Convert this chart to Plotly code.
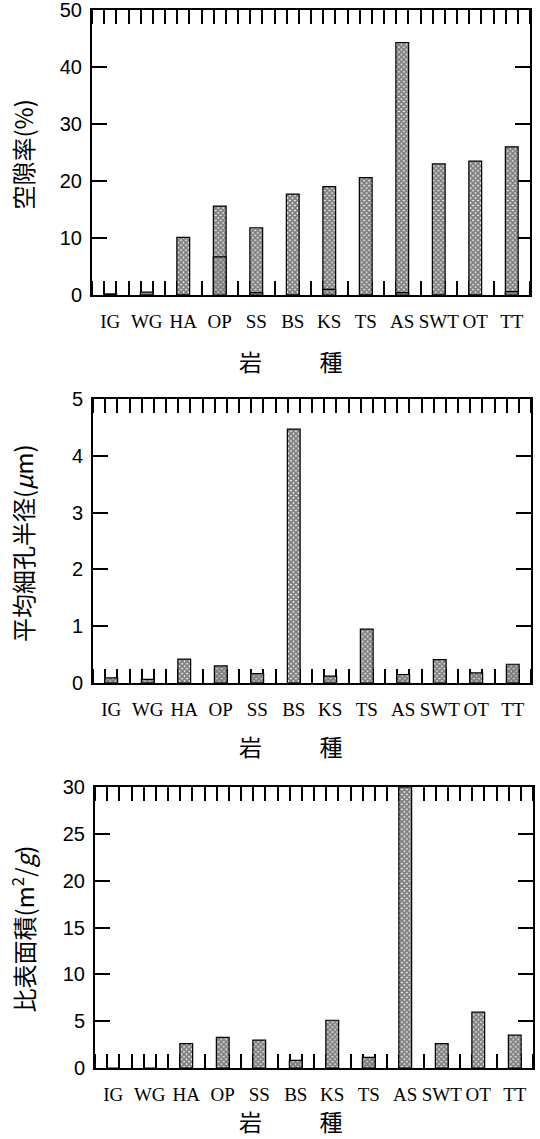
import plotly.graph_objects as go

categories = ["IG", "WG", "HA", "OP", "SS", "BS", "KS", "TS", "AS", "SWT", "OT", "TT"]

porosity = [0.2, 0.5, 10.1, 15.6, 11.8, 17.7, 19.0, 20.6, 44.3, 23.0, 23.5, 26.0]
porosity_dark = [0, 0, 0, 6.7, 0.4, 0, 1.0, 0, 0.4, 0, 0, 0.6]
pore_radius = [0.09, 0.065, 0.42, 0.30, 0.165, 4.47, 0.12, 0.95, 0.15, 0.41, 0.18, 0.33]
surface_area = [0, 0, 2.6, 3.27, 2.98, 0.82, 5.1, 1.14, 30.0, 2.6, 5.96, 3.5]

y_titles = ["空隙率(%)", "平均細孔半径(<i>μ</i>m)", "比表面積(m<sup>2</sup>/<i>g</i>)"]
x_title = "岩　　\u2002種"
y_ranges = [[0, 50], [0, 5], [0, 30]]
y_dticks = [10, 1, 5]

# darker hatching per bar (style, not data)
dark2 = [1, 1, 0, 1, 1, 0, 1, 0, 1, 0, 1, 1]
dark3 = [0, 0, 0, 0, 0, 1, 0, 1, 0, 0, 0, 0]

W, H = 540, 1139
# (top, bottom, left, right, title offset) in pixels
plot_px = [(10, 295, 92, 530, 66), (399, 683, 93, 531, 63), (787, 1068, 95, 533, 53)]

xs = list(range(len(categories)))

fig = go.Figure()

LIGHT, DARK = 0.8, 0.88

def pat(solid):
    return dict(shape="x", size=3.5, solidity=solid, fgcolor="black", bgcolor="white")

def add_bar(y, axn, solidity, width=0.35):
    fig.add_trace(go.Bar(
        x=xs, y=y, width=width,
        marker=dict(color="white", line=dict(color="black", width=1.2),
                    pattern=pat(solidity)),
        xaxis="x" if axn == 1 else f"x{axn}",
        yaxis="y" if axn == 1 else f"y{axn}",
        showlegend=False, hoverinfo="skip",
    ))

add_bar(porosity, 1, LIGHT)
add_bar(porosity_dark, 1, DARK)
add_bar(pore_radius, 2, [DARK if d else LIGHT for d in dark2])
add_bar(surface_area, 3, [DARK if d else LIGHT for d in dark3])

def fx(px):
    return px / W

def fy(px):
    return 1 - px / H

layout = dict(
    width=W, height=H,
    margin=dict(l=0, r=0, t=0, b=0),
    paper_bgcolor="white", plot_bgcolor="white",
    barmode="overlay",
)

for i, (top, bot, left, right, toff) in enumerate(plot_px):
    n = i + 1
    xk = "xaxis" if n == 1 else f"xaxis{n}"
    yk = "yaxis" if n == 1 else f"yaxis{n}"
    ya = "y" if n == 1 else f"y{n}"
    xa = "x" if n == 1 else f"x{n}"
    layout[xk] = dict(
        domain=[fx(left), fx(right)], anchor=ya,
        range=[-0.5, len(categories) - 0.5],
        tickmode="array", tickvals=xs, ticktext=categories,
        ticks="", showgrid=False, zeroline=False,
        showline=True, linecolor="black", linewidth=2, mirror="ticks",
        tickfont=dict(family="Liberation Serif", size=19, color="black"),
        ticklabelstandoff=8, ticklabeloverflow="allow",
        minor=dict(ticks="inside", ticklen=14, tickwidth=1.6, tickcolor="black",
                   tickmode="linear", tick0=-1 / 6, dtick=1 / 3, showgrid=False),
        layer="below traces", automargin=False,
    )
    layout[yk] = dict(
        domain=[fy(bot), fy(top)], anchor=xa,
        range=y_ranges[i], dtick=y_dticks[i], tick0=0,
        ticks="inside", ticklen=15, tickwidth=2, tickcolor="black",
        showgrid=False, zeroline=False,
        showline=True, linecolor="black", linewidth=2, mirror="ticks",
        tickfont=dict(family="Liberation Sans", size=20, color="black"),
        ticklabelstandoff=4, ticklabeloverflow="allow",
        layer="below traces", automargin=False,
    )

fig.update_layout(**layout)

annotations = []
for i, (top, bot, left, right, toff) in enumerate(plot_px):
    annotations.append(dict(
        text=y_titles[i], textangle=-90, showarrow=False,
        x=fx(22), y=fy((top + bot) / 2 + 2), xref="paper", yref="paper",
        xanchor="center", yanchor="middle",
        font=dict(family="Noto Sans CJK JP", size=24, color="black"),
    ))
    annotations.append(dict(
        text=x_title, showarrow=False,
        x=fx(291), y=fy(bot + toff), xref="paper", yref="paper",
        xanchor="center", yanchor="middle",
        font=dict(family="Noto Sans CJK JP", size=23, color="black"),
    ))
fig.update_layout(annotations=annotations)

fig.write_html(
    "out.html",
    config={"displayModeBar": False},
    post_script="document.body.style.margin='0';document.body.style.overflow='hidden';",
)
